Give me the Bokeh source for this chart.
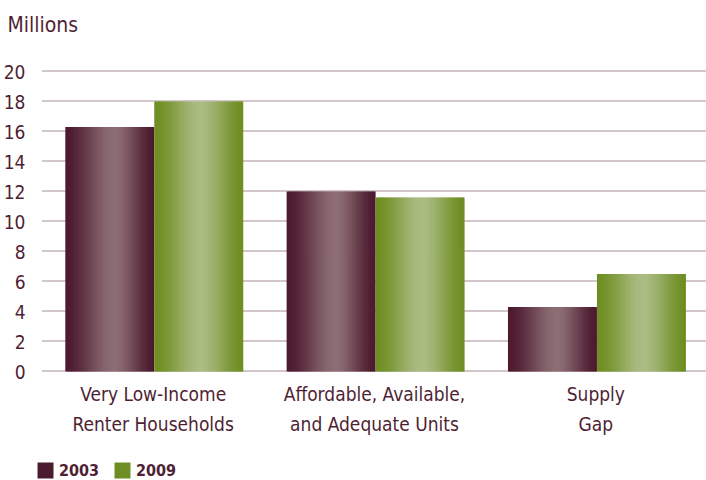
from bokeh.plotting import figure
from bokeh.models import Range1d, FixedTicker, Legend, LegendItem
from bokeh.core.properties import value
from bokeh.embed import file_html
from bokeh.resources import INLINE

categories = ["Very Low-Income\nRenter Households",
              "Affordable, Available,\nand Adequate Units",
              "Supply\nGap"]
series_names = ["2003", "2009"]
values_2003 = [16.3, 12.0, 4.3]
values_2009 = [18.0, 11.6, 6.5]
y_ticks = [0, 2, 4, 6, 8, 10, 12, 14, 16, 18, 20]

FONT = "DejaVu Sans Condensed, Roboto"
TEXT = "#4f1f33"
dark = {"2003": (0x4c, 0x1a, 0x2f), "2009": (0x6e, 0x8e, 0x22)}
light = {"2003": (0x8d, 0x6e, 0x74), "2009": (0xab, 0xbc, 0x83)}
peak = {"2003": 0.55, "2009": 0.52}

W, H = 706, 480
LEFT, TOP = 33, 40            # border widths (px)
Y0_PX, PX_PER_UNIT = 371, 15  # y=0 at 371px, 15 px per unit
X0_PX = 42                    # x=0 at 42px
UNIT_X = (W - X0_PX) / 3
HALF_PX = 0.5 / PX_PER_UNIT   # crisp 1px gridlines

p = figure(width=W, height=H, output_backend="svg", toolbar_location=None,
           x_range=Range1d(-(X0_PX - LEFT) / UNIT_X, 3),
           y_range=Range1d(-(H - Y0_PX) / PX_PER_UNIT, (Y0_PX - TOP) / PX_PER_UNIT),
           min_border_left=LEFT, min_border_right=0, min_border_top=TOP,
           min_border_bottom=0, outline_line_color=None,
           background_fill_color="white", border_fill_color="white")

# dotted gridlines across the category span
p.segment(x0=[0] * len(y_ticks), x1=[3] * len(y_ticks),
          y0=[t + HALF_PX for t in y_ticks], y1=[t + HALF_PX for t in y_ticks],
          line_color="#4f1f33", line_dash="1 1", line_width=1)

# gradient bars as thin vertical strips
N = 48
bw = 0.402
renderers = []
for s, vals in zip(series_names, [values_2003, values_2009]):
    L, R, T, B, C = [], [], [], [], []
    off0 = -bw if s == "2003" else 0.0
    for i, v in enumerate(vals):
        x0 = i + 0.505 + off0
        for k in range(N):
            t = (k + 0.5) / N
            pk = peak[s]
            m = 1 - (pk - t) / pk if t < pk else 1 - (t - pk) / (1 - pk)
            m = m * m * (3 - 2 * m) * 0.8 + m * 0.2
            if k == 0:
                m = 0.0
            col = tuple(int(round(dark[s][j] + (light[s][j] - dark[s][j]) * m)) for j in range(3))
            L.append(x0 + bw * k / N)
            R.append(x0 + bw * (k + 1) / N + (bw / N * 0.6 if k < N - 1 else 0))
            T.append(v)
            B.append(0)
            C.append("#%02x%02x%02x" % col)
    renderers.append(p.quad(left=L, right=R, top=T, bottom=B, fill_color=C, line_color=None))

# category labels (two lines each)
p.text(x=[0.5 + i for i in range(len(categories))], y=[-11 / PX_PER_UNIT] * len(categories),
       text=categories, text_align="center", text_baseline="top",
       text_font=value(FONT), text_font_size="19px", text_color=TEXT,
       text_line_height=1.38)

# y axis
p.yaxis.ticker = FixedTicker(ticks=y_ticks)
p.yaxis.axis_line_color = None
p.yaxis.major_tick_line_color = None
p.yaxis.minor_tick_line_color = None
p.yaxis.major_tick_out = 0
p.yaxis.major_tick_in = 0
p.yaxis.major_label_standoff = 8
p.yaxis.major_label_text_font = FONT
p.yaxis.major_label_text_font_size = "19px"
p.yaxis.major_label_text_color = TEXT
p.xaxis.visible = False
p.xgrid.grid_line_color = None
p.ygrid.grid_line_color = None

# title
p.title.text = "Millions"
p.title.text_font = FONT
p.title.text_font_size = "21px"
p.title.text_font_style = "normal"
p.title.text_color = TEXT
p.title.align = "left"
p.title.offset = -(LEFT - 7)
p.title.standoff = 8

# legend (glyph box drawn at 80% of its size)
legend = Legend(items=[LegendItem(label=series_names[0], renderers=[renderers[0]], index=0),
                       LegendItem(label=series_names[1], renderers=[renderers[1]], index=0)],
                orientation="horizontal", location=(35 - LEFT, 0),
                padding=0, margin=0, spacing=13, label_standoff=4,
                glyph_width=20, glyph_height=20, label_height=20,
                border_line_color=None, background_fill_alpha=0,
                label_text_font=FONT, label_text_font_size="16px",
                label_text_font_style="bold", label_text_color=TEXT)
p.add_layout(legend, "center")

open("out.html", "w").write(file_html(p, INLINE))
